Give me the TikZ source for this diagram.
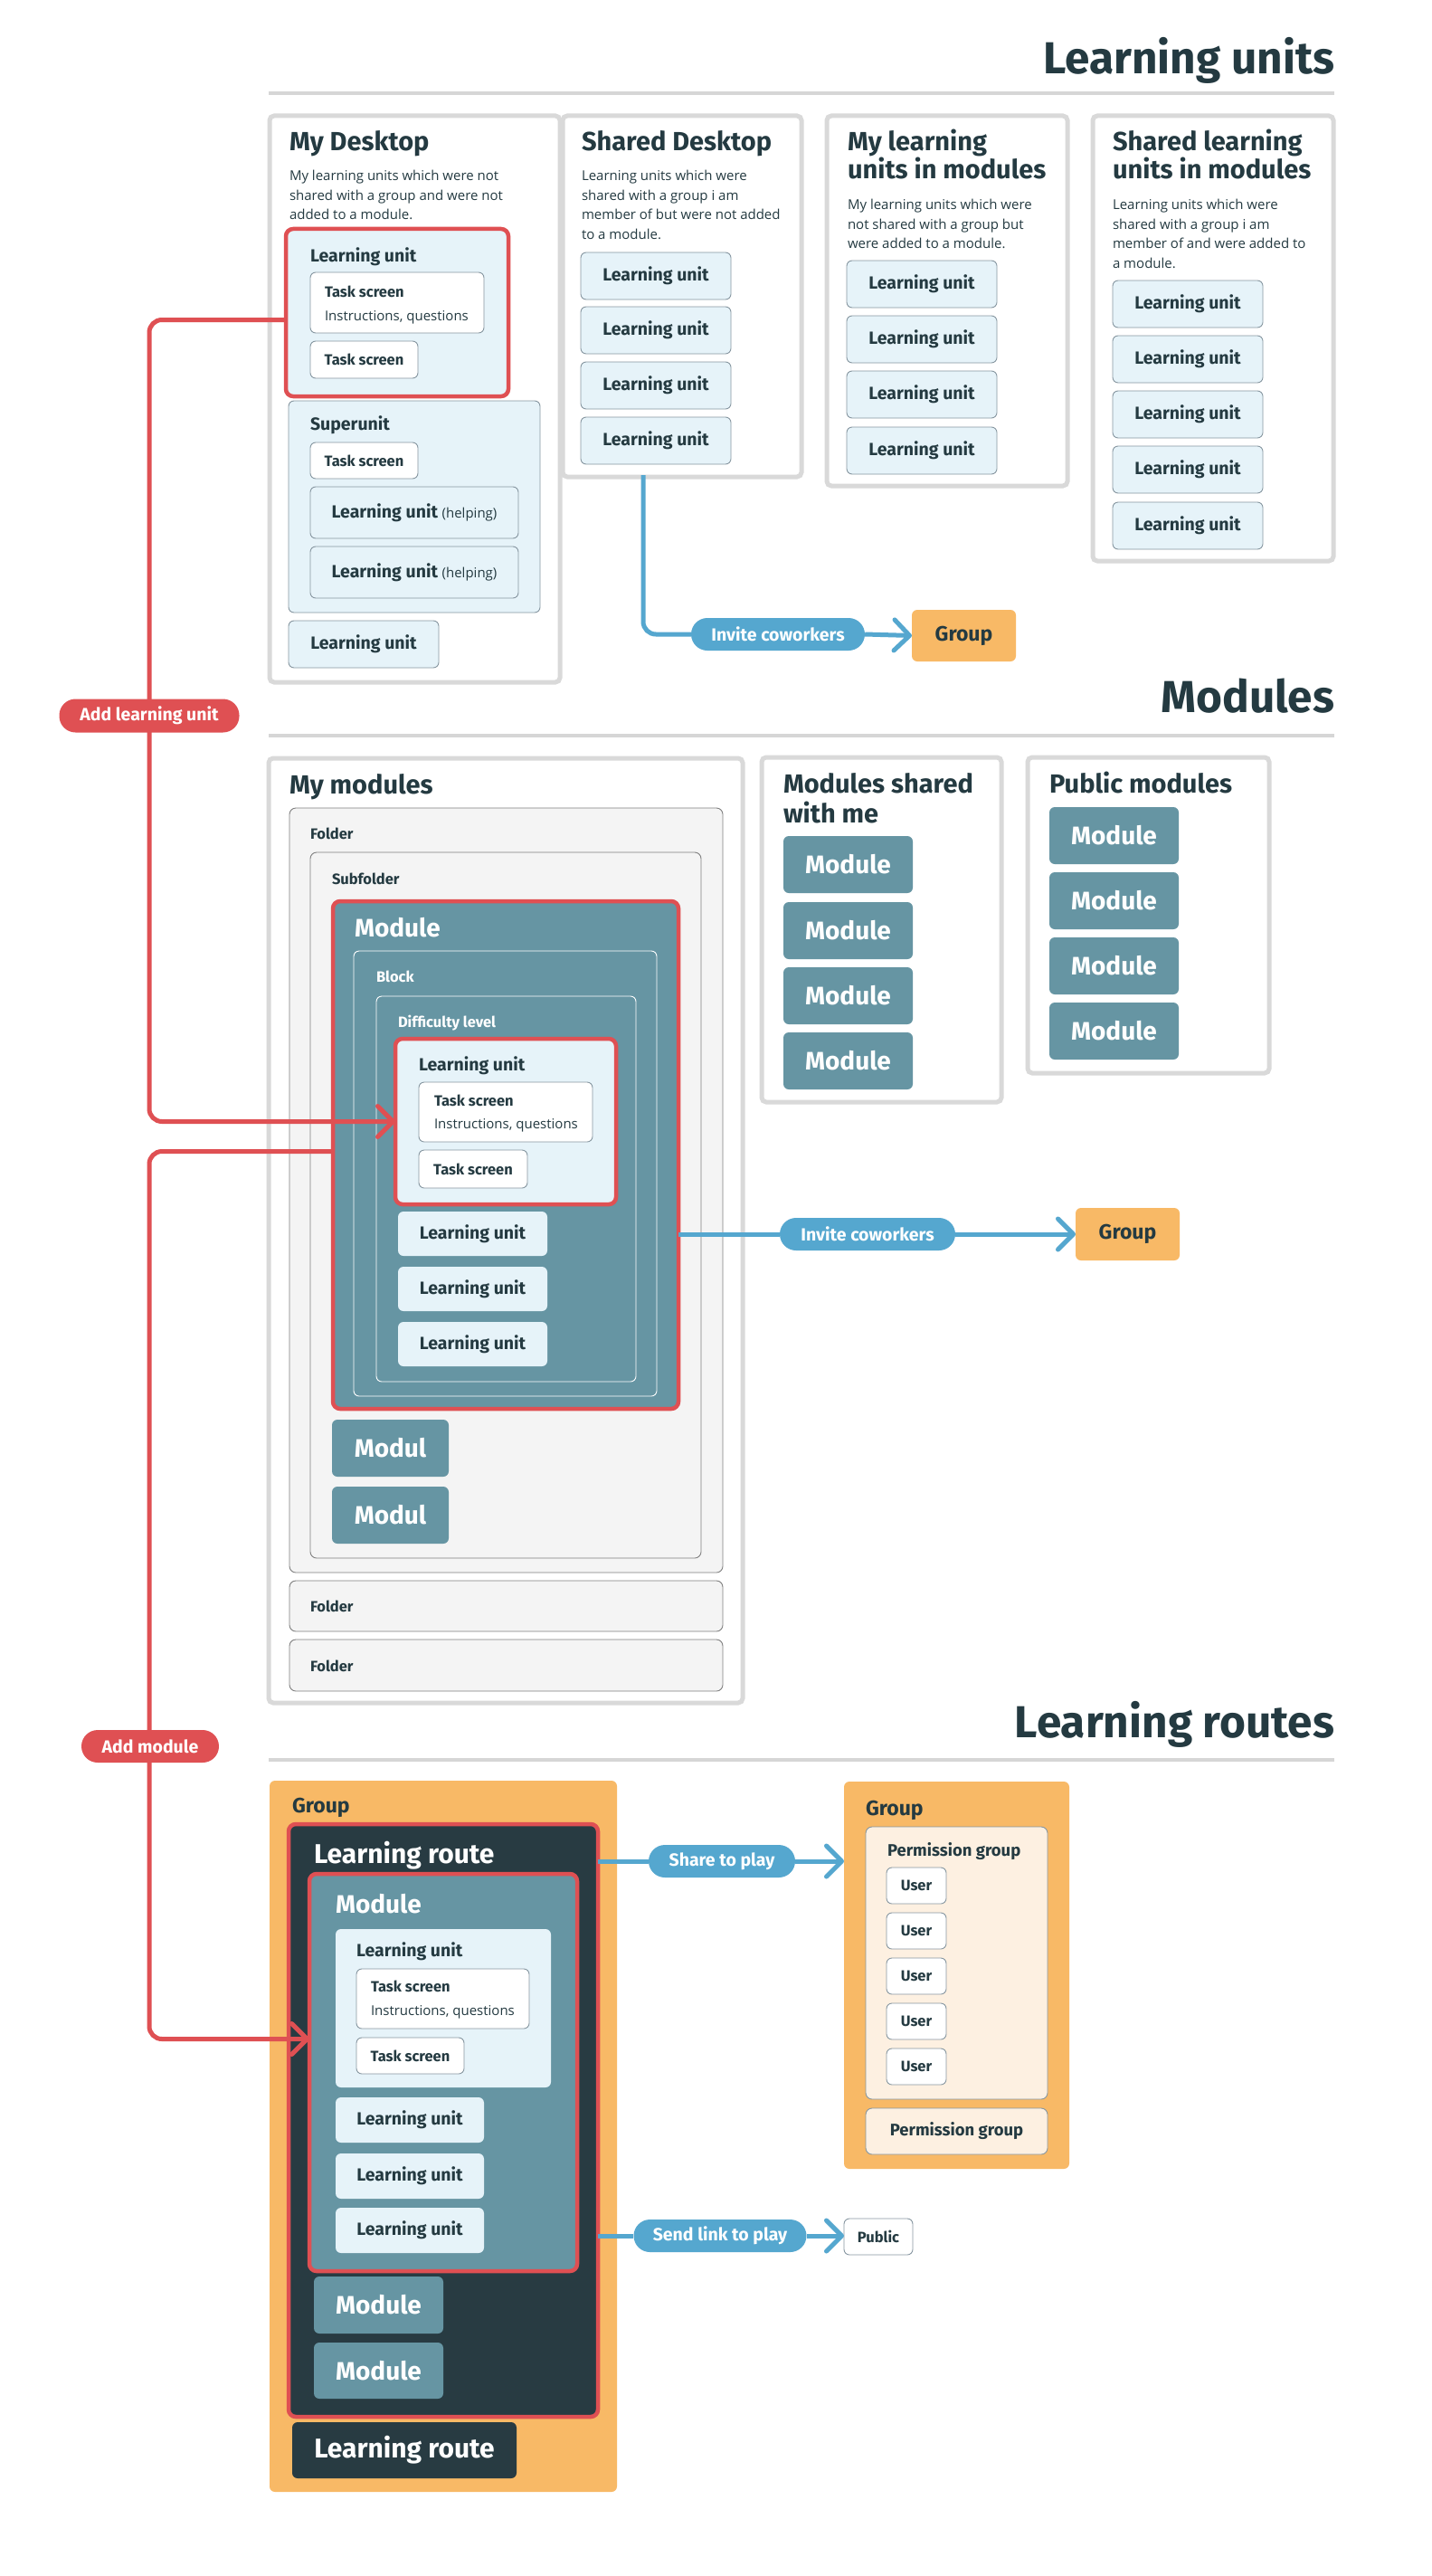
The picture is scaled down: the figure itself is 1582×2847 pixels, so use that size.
\documentclass[tikz,border=0pt]{standalone}
\usepackage{fontspec}
\setmainfont{Open Sans}
\newfontfamily\hf{Fira Sans}
\usetikzlibrary{arrows.meta,calc}

\definecolor{ink}{HTML}{243A41}
\definecolor{frameg}{HTML}{D9D9D9}
\definecolor{ruleg}{HTML}{D6D6D6}
\definecolor{lublue}{HTML}{E6F3F9}
\definecolor{lubord}{HTML}{8696A0}
\definecolor{modc}{HTML}{6695A3}
\definecolor{routec}{HTML}{283B42}
\definecolor{redc}{HTML}{DF5053}
\definecolor{bluec}{HTML}{55A7CF}
\definecolor{orangec}{HTML}{F8B966}
\definecolor{pgc}{HTML}{FDF0E1}
\definecolor{foldc}{HTML}{F4F4F4}
\definecolor{foldb}{HTML}{7F7F7F}

\newcommand\fSec{\hf\bfseries\fontsize{49.5}{53}\selectfont}
\newcommand\fTit{\hf\bfseries\fontsize{29}{31}\selectfont}
\newcommand\fDesc{\fontsize{15}{21.6}\selectfont}
\newcommand\fLU{\hf\bfseries\fontsize{19.5}{22}\selectfont}
\newcommand\fTS{\hf\bfseries\fontsize{16.5}{19}\selectfont}
\newcommand\fIns{\fontsize{15}{18}\selectfont}
\newcommand\fMod{\hf\bfseries\fontsize{28}{30}\selectfont}
\newcommand\fRoute{\hf\bfseries\fontsize{30}{32}\selectfont}
\newcommand\fGrp{\hf\bfseries\fontsize{23}{25}\selectfont}
\newcommand\fPG{\hf\bfseries\fontsize{18.5}{21}\selectfont}
\newcommand\fPill{\hf\bfseries\fontsize{19.5}{22}\selectfont}
\newcommand\hlp{{\normalfont\fontsize{15}{18}\selectfont(helping)}}

\newcommand\B[7]{\node[#1,minimum width=#5pt,minimum height=#6pt] (#2) at (#3,#4) {#7};}

\tikzset{
  base/.style={anchor=north west, inner sep=0pt, outer sep=0pt},
  frame/.style={base, draw=frameg, line width=5pt, rounded corners=5pt, fill=white},
  lubox/.style={base, draw=lubord, line width=0.9pt, fill=lublue, rounded corners=6pt, text=ink, font=\fLU},
  lunb/.style={base, fill=lublue, rounded corners=6pt, text=ink, font=\fLU},
  tsbox/.style={base, draw=lubord, line width=0.9pt, fill=white, rounded corners=6pt, text=ink, font=\fTS},
  redlu/.style={base, draw=redc, line width=4.5pt, fill=lublue, rounded corners=8pt},
  redmod/.style={base, draw=redc, line width=4.5pt, fill=modc, rounded corners=8pt},
  redroute/.style={base, draw=redc, line width=4.5pt, fill=routec, rounded corners=8pt},
  modbox/.style={base, fill=modc, rounded corners=6pt, text=white, font=\fMod},
  routebox/.style={base, fill=routec, rounded corners=6pt, text=white, font=\fRoute},
  wline/.style={base, draw=white, line width=0.9pt, rounded corners=6pt},
  folder/.style={base, draw=foldb, line width=0.9pt, fill=foldc, rounded corners=7pt},
  grp/.style={base, fill=orangec, rounded corners=6pt, text=ink, font=\fGrp},
  pgbox/.style={base, draw=lubord, line width=0.9pt, fill=pgc, rounded corners=7pt, text=ink, font=\fPG},
  userbox/.style={base, draw=lubord, line width=0.9pt, fill=white, rounded corners=6pt, text=ink, font=\fTS},
  lbl/.style={anchor=base west, inner sep=0pt, outer sep=0pt, text=ink},
  wlbl/.style={anchor=base west, inner sep=0pt, outer sep=0pt, text=white},
  pill/.style={anchor=center, inner sep=0pt, minimum height=36pt, rounded corners=18pt, text=white, font=\fPill},
  rule/.style={draw=ruleg, line width=4.5pt},
  blueline/.style={draw=bluec, line width=5pt},
  redline/.style={draw=redc, line width=5pt},
  tip/.style={-{Straight Barb[length=17pt,width=34pt,round]}},
}

\begin{document}
\begin{tikzpicture}[x=1pt,y=-1pt]
\useasboundingbox (0,0) rectangle (1582,2847);
\fill[white] (0,0) rectangle (1582,2847);

% ================= Learning units =================
\node[lbl, anchor=base east, font=\fSec] (t1) at (1475,82) {Learning units};
\draw[rule] (297,103) -- (1475,103);

% My Desktop
\B{frame}{fmd}{298}{128}{321}{626}{}
\node[lbl,font=\fTit] (fmdT) at (320,167) {My Desktop};
\node[lbl,font=\fDesc] (fmdD1) at (320,200) {My learning units which were not};
\node[lbl,font=\fDesc] (fmdD2) at (320,221.5) {shared with a group and were not};
\node[lbl,font=\fDesc] (fmdD3) at (320,243) {added to a module.};
\B{redlu}{lu1}{316}{253}{246}{185}{}
\node[lbl,font=\fLU] (lu1T) at (343,289) {Learning unit};
\B{tsbox}{ts1}{343}{301}{192}{67}{}
\node[lbl,font=\fTS] (ts1T) at (359,328) {Task screen};
\node[lbl,font=\fIns] (ts1D) at (359,354) {Instructions, questions};
\B{tsbox}{ts2}{343}{377}{119}{41}{Task screen}
\B{lubox}{su}{319}{443}{278}{234}{}
\node[lbl,font=\fLU] (suT) at (343,475) {Superunit};
\B{tsbox}{ts3}{343}{489}{119}{40}{Task screen}
\B{lubox}{luh1}{343}{538}{230}{57}{Learning unit \hlp}
\B{lubox}{luh2}{343}{604}{230}{57}{Learning unit \hlp}
\B{lubox}{lu1b}{319}{686}{166}{52}{Learning unit}

% Shared Desktop
\B{frame}{fsd}{622}{128}{264}{399}{}
\node[lbl,font=\fTit] (fsdT) at (643,167) {Shared Desktop};
\node[lbl,font=\fDesc] (fsdD1) at (643,200) {Learning units which were};
\node[lbl,font=\fDesc] (fsdD2) at (643,221.5) {shared with a group i am};
\node[lbl,font=\fDesc] (fsdD3) at (643,243) {member of but were not added};
\node[lbl,font=\fDesc] (fsdD4) at (643,264.5) {to a module.};
\B{lubox}{sd1}{642}{279}{166}{52}{Learning unit}
\B{lubox}{sd2}{642}{339}{166}{52}{Learning unit}
\B{lubox}{sd3}{642}{400}{166}{52}{Learning unit}
\B{lubox}{sd4}{642}{461}{166}{52}{Learning unit}

% My learning units in modules
\B{frame}{fml}{914}{128}{266}{409}{}
\node[lbl,font=\fTit] (fmlT1) at (937,167) {My learning};
\node[lbl,font=\fTit] (fmlT2) at (937,198) {units in modules};
\node[lbl,font=\fDesc] (fmlD1) at (937,232) {My learning units which were};
\node[lbl,font=\fDesc] (fmlD2) at (937,253.5) {not shared with a group but};
\node[lbl,font=\fDesc] (fmlD3) at (937,275) {were added to a module.};
\B{lubox}{ml1}{936}{288}{166}{52}{Learning unit}
\B{lubox}{ml2}{936}{349}{166}{52}{Learning unit}
\B{lubox}{ml3}{936}{410}{166}{52}{Learning unit}
\B{lubox}{ml4}{936}{472}{166}{52}{Learning unit}

% Shared learning units in modules
\B{frame}{fsl}{1208}{128}{266}{492}{}
\node[lbl,font=\fTit] (fslT1) at (1230,167) {Shared learning};
\node[lbl,font=\fTit] (fslT2) at (1230,198) {units in modules};
\node[lbl,font=\fDesc] (fslD1) at (1230,232) {Learning units which were};
\node[lbl,font=\fDesc] (fslD2) at (1230,253.5) {shared with a group i am};
\node[lbl,font=\fDesc] (fslD3) at (1230,275) {member of and were added to};
\node[lbl,font=\fDesc] (fslD4) at (1230,296.5) {a module.};
\B{lubox}{sl1}{1230}{310}{166}{52}{Learning unit}
\B{lubox}{sl2}{1230}{371}{166}{52}{Learning unit}
\B{lubox}{sl3}{1230}{432}{166}{52}{Learning unit}
\B{lubox}{sl4}{1230}{493}{166}{52}{Learning unit}
\B{lubox}{sl5}{1230}{555}{166}{52}{Learning unit}

% invite 1
\node[pill, fill=bluec, minimum width=192pt] (inv1) at (860,701) {Invite coworkers};
\B{grp}{g1}{1008}{674}{115}{57}{Group}
\coordinate (c1) at (711,525);
\draw[blueline, rounded corners=14pt] (c1) |- (inv1.west);
\draw[blueline, tip] (inv1.east) -- (g1.west);

% ================= Modules =================
\node[lbl, anchor=base east, font=\fSec] (t2) at (1475,787) {Modules};
\draw[rule] (297,813) -- (1475,813);

\B{frame}{fmm}{297}{838}{524}{1044}{}
\node[lbl,font=\fTit] (fmmT) at (320,877) {My modules};
\B{folder}{fo1}{320}{893}{479}{845}{}
\node[lbl,font=\fTS] (fo1T) at (343,927) {Folder};
\B{folder}{sf}{343}{942}{432}{780}{}
\node[lbl,font=\fTS] (sfT) at (367,977) {Subfolder};
\B{redmod}{modr}{368}{996}{382}{561}{}
\node[wlbl,font=\fMod] (modrT) at (392,1035) {Module};
\B{wline}{blk}{391}{1051}{335}{492}{}
\node[wlbl,font=\fTS] (blkT) at (416,1085) {Block};
\B{wline}{dif}{416}{1101}{287}{426}{}
\node[wlbl,font=\fTS] (difT) at (440,1135) {Difficulty level};
\B{redlu}{lu2}{437}{1148}{244}{183}{}
\node[lbl,font=\fLU] (lu2T) at (463,1183) {Learning unit};
\B{tsbox}{ts4}{463}{1196}{192}{66}{}
\node[lbl,font=\fTS] (ts4T) at (480,1222) {Task screen};
\node[lbl,font=\fIns] (ts4D) at (480,1247) {Instructions, questions};
\B{tsbox}{ts5}{463}{1271}{120}{42}{Task screen}
\B{lunb}{mu1}{440}{1339}{165}{49}{Learning unit}
\B{lunb}{mu2}{440}{1400}{165}{49}{Learning unit}
\B{lunb}{mu3}{440}{1461}{165}{49}{Learning unit}
\B{modbox}{mo1}{367}{1569}{129}{63}{Modul}
\B{modbox}{mo2}{367}{1643}{129}{63}{Modul}
\B{folder}{fo2}{320}{1747}{479}{56}{}
\node[lbl,font=\fTS] (fo2T) at (343,1781) {Folder};
\B{folder}{fo3}{320}{1812}{479}{57}{}
\node[lbl,font=\fTS] (fo3T) at (343,1847) {Folder};

% Modules shared with me
\B{frame}{fms}{842}{837}{265}{381}{}
\node[lbl,font=\fTit] (fmsT1) at (866,876) {Modules shared};
\node[lbl,font=\fTit] (fmsT2) at (866,909) {with me};
\B{modbox}{ms1}{866}{924}{143}{63}{Module}
\B{modbox}{ms2}{866}{997}{143}{63}{Module}
\B{modbox}{ms3}{866}{1069}{143}{63}{Module}
\B{modbox}{ms4}{866}{1141}{143}{63}{Module}

% Public modules
\B{frame}{fpm}{1136}{837}{267}{349}{}
\node[lbl,font=\fTit] (fpmT) at (1160,876) {Public modules};
\B{modbox}{pm1}{1160}{892}{143}{63}{Module}
\B{modbox}{pm2}{1160}{964}{143}{63}{Module}
\B{modbox}{pm3}{1160}{1036}{143}{63}{Module}
\B{modbox}{pm4}{1160}{1108}{143}{63}{Module}

% invite 2
\node[pill, fill=bluec, minimum width=194pt] (inv2) at (959,1364) {Invite coworkers};
\B{grp}{g2}{1189}{1335}{115}{58}{Group}
\draw[blueline] (inv2.west -| modr.east) -- (inv2.west);
\draw[blueline, tip] (inv2.east) -- (g2.west);

% ================= Learning routes =================
\node[lbl, anchor=base east, font=\fSec] (t3) at (1475,1920) {Learning routes};
\draw[rule] (297,1945) -- (1475,1945);

\B{grp}{g3}{298}{1968}{384}{786}{}
\node[lbl,font=\fGrp] (g3T) at (323,2003) {Group};
\B{redroute}{lr}{319}{2016}{342}{655}{}
\node[wlbl,font=\fRoute] (lrT) at (347,2059) {Learning route};
\B{redmod}{lrm}{342}{2071}{296}{439}{}
\node[wlbl,font=\fMod] (lrmT) at (371,2114) {Module};
\B{lunb}{lu3}{371}{2132}{238}{175}{}
\node[lbl,font=\fLU] (lu3T) at (394,2162) {Learning unit};
\B{tsbox}{ts6}{394}{2176}{191}{66}{}
\node[lbl,font=\fTS] (ts6T) at (410,2201) {Task screen};
\node[lbl,font=\fIns] (ts6D) at (410,2227) {Instructions, questions};
\B{tsbox}{ts7}{394}{2252}{119}{40}{Task screen}
\B{lunb}{ru1}{371}{2318}{164}{50}{Learning unit}
\B{lunb}{ru2}{371}{2380}{164}{50}{Learning unit}
\B{lunb}{ru3}{371}{2440}{164}{50}{Learning unit}
\B{modbox}{rm1}{347}{2516}{143}{63}{Module}
\B{modbox}{rm2}{347}{2589}{143}{62}{Module}
\B{routebox}{lr2}{323}{2677}{248}{62}{Learning route}

% Group with permission groups
\B{grp}{g4}{933}{1969}{249}{428}{}
\node[lbl,font=\fGrp] (g4T) at (957,2006) {Group};
\B{pgbox}{pg1}{957}{2019}{201}{301}{}
\node[lbl,font=\fPG] (pg1T) at (981,2051) {Permission group};
\B{userbox}{us1}{980}{2064}{66}{40}{User}
\B{userbox}{us2}{980}{2114}{66}{40}{User}
\B{userbox}{us3}{980}{2164}{66}{40}{User}
\B{userbox}{us4}{980}{2214}{66}{40}{User}
\B{userbox}{us5}{980}{2264}{66}{40}{User}
\B{pgbox}{pg2}{957}{2330}{201}{51}{Permission group}

\B{userbox}{pub}{933}{2452}{76}{40}{Public}

\node[pill, fill=bluec, minimum width=162pt] (share) at (798,2057) {Share to play};
\node[pill, fill=bluec, minimum width=191pt] (send) at (796,2471) {Send link to play};
\draw[blueline] (share.west -| lr.east) -- (share.west);
\draw[blueline, tip] (share.east) -- (share.east -| g4.west);
\draw[blueline] (send.west -| lr.east) -- (send.west);
\draw[blueline, tip] (send.east) -- (send.east -| pub.west);

% ================= red connectors =================
\coordinate (xr) at (165,0);
\coordinate (a0) at ([yshift=-8pt]lu1.west);
\coordinate (b0) at ([yshift=4pt]modr.west);
\coordinate (b1) at ([yshift=37pt]lrm.west);
\draw[redline, tip, rounded corners=14pt] (a0) -- (a0 -| xr) -- (lu2.west -| xr) -- (lu2.west);
\draw[redline, tip, rounded corners=14pt] (b0) -- (b0 -| xr) -- (b1 -| xr) -- (b1);
\node[pill, fill=redc, minimum width=199pt, minimum height=37pt] (addlu) at (165,791) {Add learning unit};
\node[pill, fill=redc, minimum width=152pt] (addm) at (166,1930) {Add module};
\end{tikzpicture}
\end{document}
